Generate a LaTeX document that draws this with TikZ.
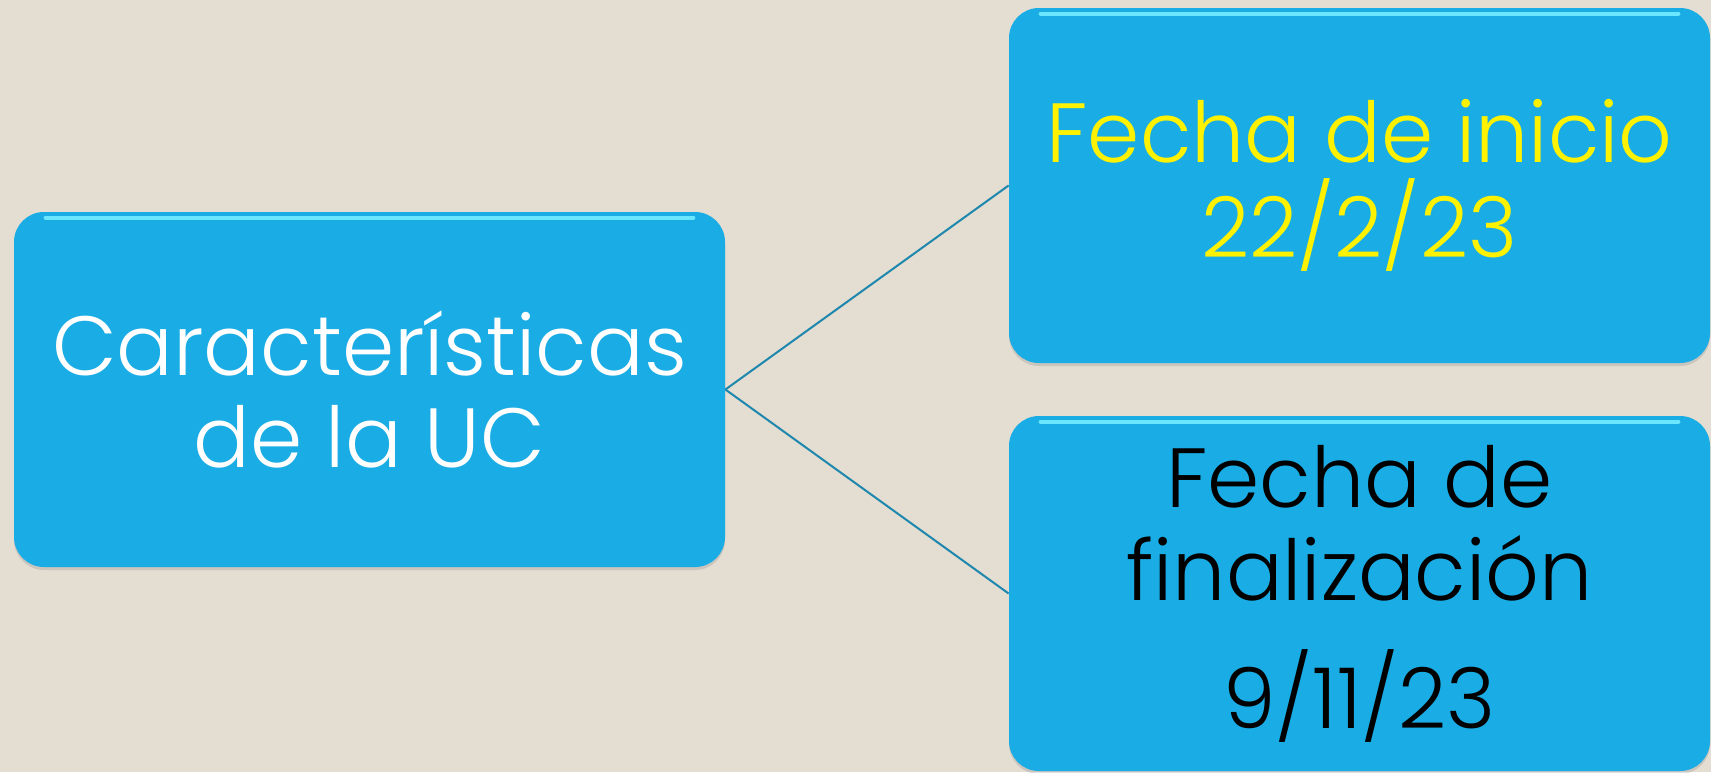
\documentclass[tikz,border=0pt]{standalone}
\usepackage{fontspec}
\setmainfont{Poppins}[UprightFont={* Light}]
\usetikzlibrary{positioning,shadows}

\definecolor{fondo}{HTML}{E3DDD2}
\definecolor{cajaazul}{HTML}{1AACE4}
\definecolor{linea}{HTML}{1D87AD}
\definecolor{brillo}{HTML}{6AE6FF}

\begin{document}
\begin{tikzpicture}[x=0.5pt,y=-0.5pt]
  \tikzset{
    caja/.style={fill=cajaazul, rounded corners=15pt, inner sep=0pt, align=center,
      drop shadow={opacity=0.25, shadow xshift=0pt, shadow yshift=-1.5pt}},
    conector/.style={draw=linea, line width=1pt}
  }
  \fill[fondo] (0,0) rectangle (1711,772);
  \useasboundingbox (0,0) rectangle (1711,772);

  % caja principal
  \node[caja, minimum width=355.5pt, minimum height=177.5pt, text=white,
        font=\fontsize{42}{46}\selectfont] (uc) at (369.5,389.5)
    {Características\\de la UC};

  % fechas
  \node[caja, minimum width=350.5pt, minimum height=177.5pt, text=yellow,
        font=\fontsize{42}{47.5}\selectfont] (inicio) at (1359.5,185.5)
    {Fecha de inicio\\22/2/23};
  \node[caja, minimum width=350.5pt, minimum height=177.5pt, text=black,
        font=\fontsize{42}{46.5}\selectfont] (fin) at (1359.5,593.5)
    {Fecha de\\finalización\\[17.5pt]9/11/23};

  % brillos
  \foreach \c in {uc,inicio,fin}{
    \draw[brillo, line width=2pt, line cap=round]
      ([xshift=16pt,yshift=-3pt]\c.north west) -- ([xshift=-16pt,yshift=-3pt]\c.north east);
  }

  \draw[conector] (uc.east) -- (inicio.west);
  \draw[conector] (uc.east) -- (fin.west);
\end{tikzpicture}
\end{document}
